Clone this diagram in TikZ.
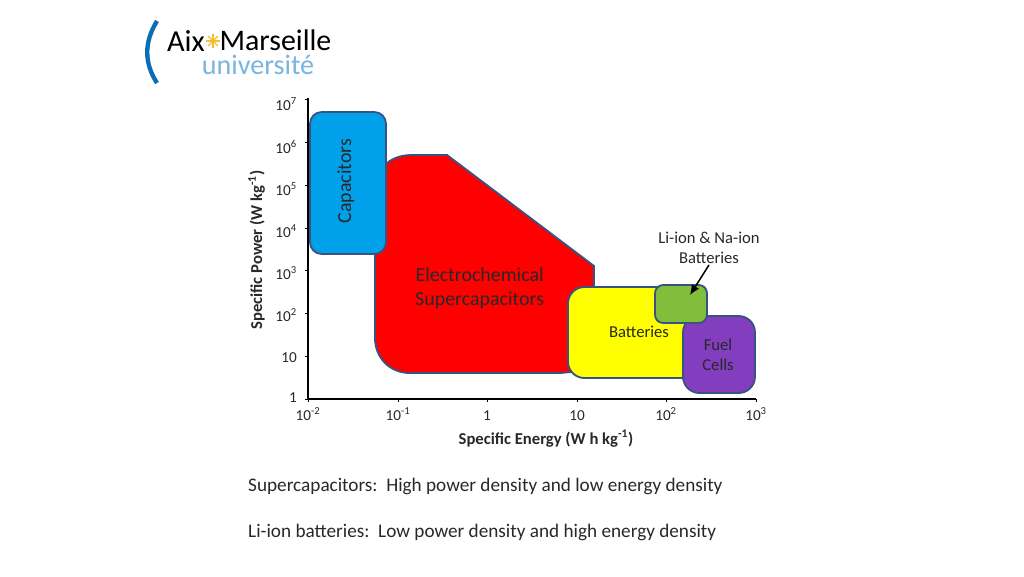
\documentclass[tikz,border=0pt]{standalone}
\usepackage{fontspec}
\setmainfont{Carlito}
\usetikzlibrary{calc,arrows.meta}
\definecolor{edgeblue}{RGB}{56,83,130}
\definecolor{capblue}{RGB}{0,161,234}
\definecolor{liongreen}{RGB}{128,190,60}
\definecolor{fuelpurple}{RGB}{130,62,190}
\definecolor{batyellow}{RGB}{255,255,0}
\definecolor{logoblue}{RGB}{10,110,180}
\definecolor{logosky}{RGB}{120,180,225}
\definecolor{logostar}{RGB}{245,190,50}
\definecolor{inkgrey}{RGB}{40,40,40}
\tikzset{
	region/.style={draw=edgeblue,line width=0.55mm},
	ticklabel/.style={font=\fontsize{13}{15}\selectfont,text=inkgrey,inner sep=0pt},
	boxlabel/.style={align=center,text=inkgrey,inner sep=0pt},
	axistitle/.style={font=\fontsize{14.2}{16}\selectfont\bfseries,text=inkgrey,inner sep=0pt,anchor=base},
	bodyline/.style={font=\fontsize{16.4}{18}\selectfont,text=inkgrey,inner sep=0pt,anchor=base west}
}
\begin{document}
\begin{tikzpicture}[x=0.03cm,y=-0.03cm]
	\useasboundingbox (0,0) rectangle (1024,576);
	
	% logo
	\draw[logoblue,line width=1.3mm] (157,21) .. controls (144,42) and (144,63) .. (157,83);
	\node[inner sep=0pt,font=\fontsize{26}{28}\selectfont] (aix) at (186,41) {Aix};
	\foreach \a in {0,45,...,315}{
		\draw[logostar,line width=0.4mm] (213,41) -- +(\a:7);
	}
	\node[inner sep=0pt,font=\fontsize{25.5}{28}\selectfont] (marseille) at (275.5,40) {Marseille};
	\node[inner sep=0pt,text=logosky,font=\fontsize{24}{26}\selectfont] (universite) at (258,65) {université};
	
	% axes
	\draw[line width=0.45mm] (308,98) -- (308,399) -- (756,399);
	\foreach \y/\base/\lab in {399/402/1,356.2/362/10,313.5/321/10\textsuperscript{2},270.7/279/10\textsuperscript{3},228/237/10\textsuperscript{4},185.2/195/10\textsuperscript{5},142.5/153/10\textsuperscript{6},99.7/110/10\textsuperscript{7}}{
		\draw[line width=0.3mm] (305,\y) -- (308,\y);
		\node[ticklabel,anchor=base east] at (297,\base) {\lab};
	}
	\foreach \x/\lab in {308/10\textsuperscript{-2},398/10\textsuperscript{-1},487/1,577/10,666/10\textsuperscript{2},756/10\textsuperscript{3}}{
		\draw[line width=0.3mm] (\x,399) -- (\x,402);
		\node[ticklabel,anchor=base] at (\x,420) {\lab};
	}
	\node[axistitle,rotate=90] (ylabel) at (262,250) {Specific Power (W kg\textsuperscript{-1})};
	\node[axistitle] (xlabel) at (546,444) {Specific Energy (W h kg\textsuperscript{-1})};
	
	% regions
	\draw[region,fill=red] (375,250) -- (375,338) .. controls (375,358) and (390,373) .. (410,373) -- (560,373) -- (594,370) -- (594,266) -- (447,155) -- (412,155) .. controls (398,155) and (388,160) .. (380,170) -- cycle;
	\draw[region,fill=capblue,rounded corners=10] (310,112) rectangle (386,254);
	\draw[region,fill=batyellow,rounded corners=14] (568,287) rectangle (705,378);
	\draw[region,fill=fuelpurple,rounded corners=14] (683,316) rectangle (755,393);
	\draw[region,fill=liongreen,rounded corners=7] (655,285) rectangle (707,323);
	
	% labels
	\node[boxlabel,rotate=90,font=\fontsize{17}{20}\selectfont] (capacitors) at (346,181) {Capacitors};
	\node[boxlabel,anchor=west,font=\fontsize{17}{21}\selectfont] (supercaps) at (415,288) {Electrochemical\\Supercapacitors};
	\node[boxlabel,font=\fontsize{14.2}{16}\selectfont] (batteries) at (639,332) {Batteries};
	\node[boxlabel,font=\fontsize{14.2}{17}\selectfont] (fuelcells) at (718,355) {Fuel\\Cells};
	\node[boxlabel,font=\fontsize{14.2}{17}\selectfont] (liion) at (709,248) {Li-ion \& Na-ion\\Batteries};
	\coordinate (lionpoint) at (690,295);
	\draw[-{Latex[length=3mm,width=2.6mm]},line width=0.45mm] ($(liion.south)+(0,1)$) -- (lionpoint);
	
	\node[bodyline] (powerline) at (248,491) {Supercapacitors:\ \ High power density and low energy density};
	\node[bodyline] (energyline) at (248,537) {Li-ion batteries:\ \ Low power density and high energy density};
\end{tikzpicture}
\end{document}
